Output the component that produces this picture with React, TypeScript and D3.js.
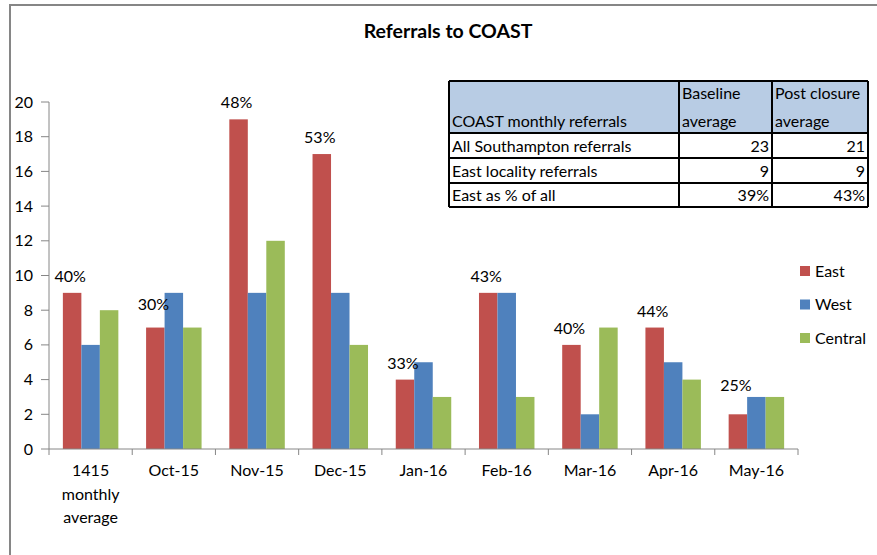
import * as d3 from "d3"

const categories = [
  "1415 monthly average",
  "Oct-15",
  "Nov-15",
  "Dec-15",
  "Jan-16",
  "Feb-16",
  "Mar-16",
  "Apr-16",
  "May-16",
]
const series = ["East", "West", "Central"]
const east = [9, 7, 19, 17, 4, 9, 6, 7, 2]
const west = [6, 9, 9, 9, 5, 9, 2, 5, 3]
const central = [8, 7, 12, 6, 3, 3, 7, 4, 3]
const eastShare = ["40%", "30%", "48%", "53%", "33%", "43%", "40%", "44%", "25%"]
const yTicks = [0, 2, 4, 6, 8, 10, 12, 14, 16, 18, 20]

const tableHeader = ["COAST monthly referrals", "Baseline average", "Post closure average"]
const tableRows = [
  ["All Southampton referrals", "23", "21"],
  ["East locality referrals", "9", "9"],
  ["East as % of all", "39%", "43%"],
]

const colours = ["#c0504d", "#4f81bd", "#9bbb59"]
const font = "Lato, 'Liberation Sans', sans-serif"
const axisColour = "#868686"
const fs = 16

// a few labels were dragged by hand in the original
const labelLift: Record<string, number> = { "Oct-15": 7, "May-16": 12 }

const W = 877
const H = 555

export default function App() {
  const values = [east, west, central]
  const x = d3.scaleBand().domain(categories).range([49, 798])
  const xs = d3.scaleBand().domain(series).range([0, x.step()]).paddingOuter(0.75)
  const y = d3.scaleLinear().domain([0, 20]).range([449, 102])
  const colour = d3.scaleOrdinal<string>().domain(series).range(colours)

  const boundaries = categories.map((c) => x(c)!).concat([798])

  // table geometry
  const colX = [449, 679, 772, 868]
  const rowY = [81, 133, 158, 183, 207]

  return (
    <svg
      width={W}
      height={H}
      style={{ position: "absolute", left: 0, top: 0, background: "#fff" }}
      fontFamily={font}
    >
      {/* outer frame */}
      <path d={`M10,${H} V5 H${W}`} fill="none" stroke={axisColour} strokeWidth={2} />

      <text x={448} y={38} textAnchor="middle" fontSize={19.5} fontWeight="bold" fill="#000">
        Referrals to COAST
      </text>

      {/* y axis */}
      <line x1={49} x2={49} y1={y(0)} y2={y(20)} stroke={axisColour} />
      {yTicks.map((t) => (
        <g key={t}>
          <line x1={41} x2={49} y1={y(t)} y2={y(t)} stroke={axisColour} />
          <text x={33} y={y(t) + 5.5} textAnchor="end" fontSize={fs} fill="#000">
            {t}
          </text>
        </g>
      ))}

      {/* bars */}
      {categories.map((c, i) => (
        <g key={c} transform={`translate(${x(c)},0)`}>
          {series.map((s, j) => (
            <rect
              key={s}
              x={xs(s)}
              y={y(values[j][i])}
              width={xs.bandwidth()}
              height={y(0) - y(values[j][i])}
              fill={colour(s)}
            />
          ))}
          <text
            x={xs("East")! + xs.bandwidth() / 2 - 2}
            y={y(east[i]) - 11 - (labelLift[c] || 0)}
            textAnchor="middle"
            fontSize={fs}
            fill="#000"
          >
            {eastShare[i]}
          </text>
        </g>
      ))}

      {/* x axis */}
      <line x1={49} x2={798} y1={y(0)} y2={y(0)} stroke={axisColour} />
      {boundaries.map((b, i) => (
        <line key={i} x1={b} x2={b} y1={y(0)} y2={y(0) + 6} stroke={axisColour} />
      ))}
      {categories.map((c) => {
        const lines = c.includes(" ") ? c.split(" ") : [c]
        return (
          <text key={c} textAnchor="middle" fontSize={fs} fill="#000">
            {lines.map((l, k) => (
              <tspan key={k} x={x(c)! + x.bandwidth() / 2} y={476 + k * 23.5}>
                {l}
              </tspan>
            ))}
          </text>
        )
      })}

      {/* legend */}
      {series.map((s, j) => (
        <g key={s} transform={`translate(800,${266 + j * 33.5})`}>
          <rect width={10} height={10} fill={colour(s)} />
          <text x={15} y={10.5} fontSize={fs} fill="#000">
            {s}
          </text>
        </g>
      ))}

      {/* summary table */}
      <rect x={colX[0]} y={rowY[0]} width={colX[3] - colX[0]} height={rowY[1] - rowY[0]} fill="#b8cce4" />
      <text x={colX[0] + 3} y={rowY[1] - 6} fontSize={fs} fill="#000">
        {tableHeader[0]}
      </text>
      {[1, 2].map((k) => {
        const words = tableHeader[k].split(" ")
        const first = words.slice(0, words.length - 1).join(" ")
        return (
          <text key={k} fontSize={fs} fill="#000">
            <tspan x={colX[k] + 3} y={rowY[0] + 18}>
              {first}
            </tspan>
            <tspan x={colX[k] + 3} y={rowY[1] - 6}>
              {words[words.length - 1]}
            </tspan>
          </text>
        )
      })}
      {tableRows.map((r, i) => (
        <g key={i}>
          <text x={colX[0] + 3} y={rowY[i + 2] - 6} fontSize={fs} fill="#000">
            {r[0]}
          </text>
          <text x={colX[2] - 3} y={rowY[i + 2] - 6} fontSize={fs} textAnchor="end" fill="#000">
            {r[1]}
          </text>
          <text x={colX[3] - 3} y={rowY[i + 2] - 6} fontSize={fs} textAnchor="end" fill="#000">
            {r[2]}
          </text>
        </g>
      ))}
      {rowY.map((ry, i) => (
        <line key={"h" + i} x1={colX[0]} x2={colX[3]} y1={ry} y2={ry} stroke="#000" strokeWidth={2} />
      ))}
      {colX.map((cx, i) => (
        <line key={"v" + i} x1={cx} x2={cx} y1={rowY[0]} y2={rowY[4]} stroke="#000" strokeWidth={2} />
      ))}
    </svg>
  )
}
